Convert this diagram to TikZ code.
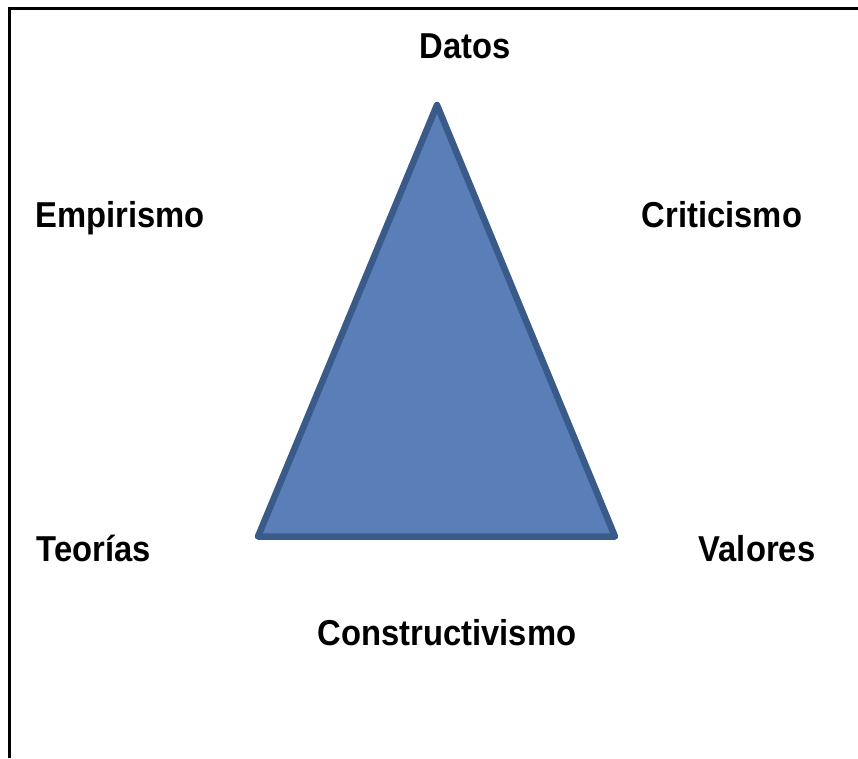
\documentclass[tikz,border=0pt]{standalone}
\usepackage{fontspec}
\newfontfamily\lblfont{Liberation Sans}[FakeStretch=0.91]
\usepackage{xcolor}
\definecolor{trifill}{HTML}{5A7FB8}
\definecolor{triline}{HTML}{3A5B8A}

\begin{document}
\begin{tikzpicture}[lbl/.style={anchor=base,inner sep=0pt,font=\lblfont\bfseries\fontsize{36}{42}\selectfont}]
		\begin{scope}[x=1pt,y=-1pt]
			\useasboundingbox (0,0) rectangle (858,758);
			\coordinate (D) at (437,105);
			\coordinate (T) at (258,536.5);
			\coordinate (V) at (615,536.5);
			%frame
			\draw[line width=2.5pt] (9.5,758) -- (9.5,8.5) -- (858,8.5);
			%triangle
			\draw[fill=trifill,draw=triline,line width=6.5pt,line join=round] (D) -- (T) -- (V) -- cycle;
			%labels
			\node[lbl] (datos) at (465,58) {Datos};
			\node[lbl] (empirismo) at (120,227) {Empirismo};
			\node[lbl] (criticismo) at (722,227) {Criticismo};
			\node[lbl] (teorias) at (94,561) {Teorías};
			\node[lbl] (valores) at (757,561) {Valores};
			\node[lbl] (constructivismo) at (447,645) {Constructivismo};
		\end{scope}
	\end{tikzpicture}
\end{document}
